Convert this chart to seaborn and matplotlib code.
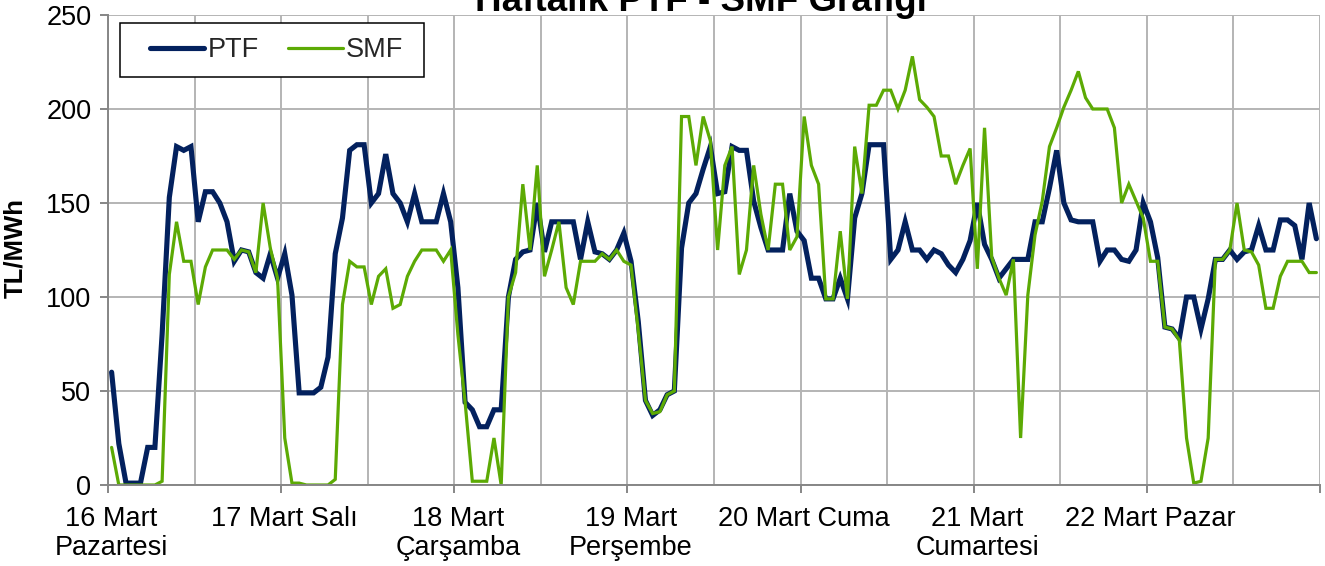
import numpy as np
import pandas as pd
import matplotlib
matplotlib.use("Agg")
import matplotlib.pyplot as plt
import matplotlib.transforms as mtransforms
from matplotlib.patches import Rectangle
import seaborn as sns

# ---------------- data ----------------
title = "Haftalık PTF - SMF Grafiği"
y_label = "TL/MWh"
day_labels = ["16 Mart\nPazartesi", "17 Mart Salı", "18 Mart\nÇarşamba",
              "19 Mart\nPerşembe", "20 Mart Cuma", "21 Mart\nCumartesi",
              "22 Mart Pazar"]
series_names = ["PTF", "SMF"]

ptf = [
    60, 22, 1, 1, 1, 20, 20, 80, 153, 180, 178, 180, 140, 156, 156, 150, 140, 119, 125, 124, 113, 110, 123, 110,
    123, 101, 49, 49, 49, 52, 68, 123, 142, 178, 181, 181, 150, 155, 176, 155, 150, 140, 155, 140, 140, 140, 155, 140,
    105, 44, 40, 31, 31, 40, 40, 100, 120, 124, 125, 150, 124, 140, 140, 140, 140, 120, 140, 124, 123, 120, 125, 134,
    119, 87, 45, 37, 40, 48, 50, 126, 150, 155, 168, 180, 155, 156, 180, 178, 178, 151, 137, 125, 125, 125, 155, 135,
    130, 110, 110, 99, 99, 110, 99, 142, 155, 181, 181, 181, 120, 125, 140, 125, 125, 120, 125, 123, 117, 113, 120, 130,
    150, 128, 120, 110, 115, 120, 120, 120, 140, 140, 158, 178, 150, 141, 140, 140, 140, 119, 125, 125, 120, 119, 125, 150,
    140, 121, 84, 83, 78, 100, 100, 83, 99, 120, 120, 125, 120, 124, 125, 138, 125, 125, 141, 141, 138, 120, 150, 131,
]
smf = [
    20, 0, 0, 0, 0, 0, 0, 2, 112, 140, 119, 119, 96, 116, 125, 125, 125, 120, 125, 124, 113, 150, 126, 110,
    25, 1, 1, 0, 0, 0, 0, 3, 96, 119, 116, 116, 96, 111, 115, 94, 96, 111, 119, 125, 125, 125, 119, 125,
    80, 44, 2, 2, 2, 25, 0, 100, 113, 160, 125, 170, 111, 125, 140, 105, 96, 119, 119, 119, 123, 120, 125, 119,
    117, 82, 45, 38, 39, 48, 50, 196, 196, 170, 196, 183, 125, 170, 180, 112, 125, 170, 144, 125, 160, 160, 125, 132,
    196, 170, 160, 99, 99, 135, 99, 180, 155, 202, 202, 210, 210, 200, 210, 228, 205, 201, 196, 175, 175, 160, 170, 179,
    115, 190, 121, 110, 101, 120, 25, 101, 133, 151, 180, 190, 201, 210, 220, 206, 200, 200, 200, 190, 150, 160, 151, 142,
    119, 119, 84, 83, 77, 25, 1, 2, 25, 120, 120, 125, 150, 125, 124, 117, 94, 94, 111, 119, 119, 119, 113, 113,
]

hours = np.arange(len(ptf)) + 0.5   # Excel "between tick marks" category centres
df = pd.DataFrame({
    "saat": np.concatenate([hours, hours]),
    "deger": ptf + smf,
    "seri": [series_names[0]] * len(ptf) + [series_names[1]] * len(smf),
})

# ---------------- style ----------------
sns.set_theme(style="white")
plt.rcParams["font.family"] = ["Liberation Sans", "DejaVu Sans"]

navy = "#03215E"
green = "#5CAA04"
grid_c = "#B4B4B4"
spine_c = "#868686"

W, H = 1325, 566
fig = plt.figure(figsize=(W / 100, H / 100), dpi=100)
ax_l, ax_r, ax_t, ax_b = 108, 1320, 15, 485
ax = fig.add_axes([ax_l / W, (H - ax_b) / H, (ax_r - ax_l) / W, (ax_b - ax_t) / H])

def ax_x(px):
    return (px - ax_l) / (ax_r - ax_l)

def ax_y(py):
    return (ax_b - py) / (ax_b - ax_t)

sns.lineplot(data=df[df.seri == "PTF"], x="saat", y="deger", ax=ax,
             color=navy, linewidth=3.7, label="PTF", solid_joinstyle="miter")
sns.lineplot(data=df[df.seri == "SMF"], x="saat", y="deger", ax=ax,
             color=green, linewidth=2.3, label="SMF", solid_joinstyle="miter")

ax.set_xlim(0, len(ptf))
ax.set_ylim(0, 250)
ax.set_yticks(np.arange(0, 251, 50))
ax.set_xticks(np.arange(0, len(ptf) + 1, 24))
ax.set_xticklabels(day_labels + [""])
ax.set_xticks(np.arange(12, len(ptf), 24), minor=True)

ax.grid(True, which="both", axis="x", color=grid_c, linewidth=1.4)
ax.grid(True, which="major", axis="y", color=grid_c, linewidth=1.4)
ax.set_axisbelow(True)

for side in ["top", "right"]:
    ax.spines[side].set_visible(False)
for side in ["left", "bottom"]:
    ax.spines[side].set_color(spine_c)
    ax.spines[side].set_linewidth(1.4)

ax.tick_params(axis="y", which="major", direction="out", length=6, width=1.4,
               color=spine_c, labelsize=19.5, pad=6, left=True, labelcolor="black")
ax.tick_params(axis="x", which="major", direction="out", length=6, width=1.4,
               color=spine_c, labelsize=19.5, pad=9, bottom=True, labelcolor="black")
ax.tick_params(axis="x", which="minor", length=0)

offset = mtransforms.ScaledTranslation(3.6 / 100, 0, fig.dpi_scale_trans)
for lab in ax.get_xticklabels():
    lab.set_transform(lab.get_transform() + offset)
    lab.set_linespacing(1.15)

ax.set_xlabel("")
ax.set_ylabel(y_label, fontsize=18.5, fontweight="bold", color="black")
ax.yaxis.set_label_coords(ax_x(27), 0.504)

# legend: frame drawn as a rectangle to match Excel's padding
ax.add_patch(Rectangle((ax_x(120), ax_y(77)), ax_x(424) - ax_x(120), ax_y(23) - ax_y(77),
                       transform=ax.transAxes, facecolor="white", edgecolor="black",
                       linewidth=1.1, zorder=4.5, clip_on=False))
leg = ax.legend(loc="center left", bbox_to_anchor=(ax_x(150), ax_y(50)), borderaxespad=0,
                ncol=2, frameon=False, fontsize=19.5, borderpad=0,
                handlelength=2.0, handletextpad=0.12, columnspacing=1.1)
leg.set_zorder(6)
for h in leg.get_lines():
    h.set_solid_capstyle("round")

fig.text(701 / W, (H - 11) / H, title, ha="center", va="baseline",
         fontsize=26.5, fontweight="bold", color="black")

fig.savefig("out.png", dpi=100, facecolor="white")
